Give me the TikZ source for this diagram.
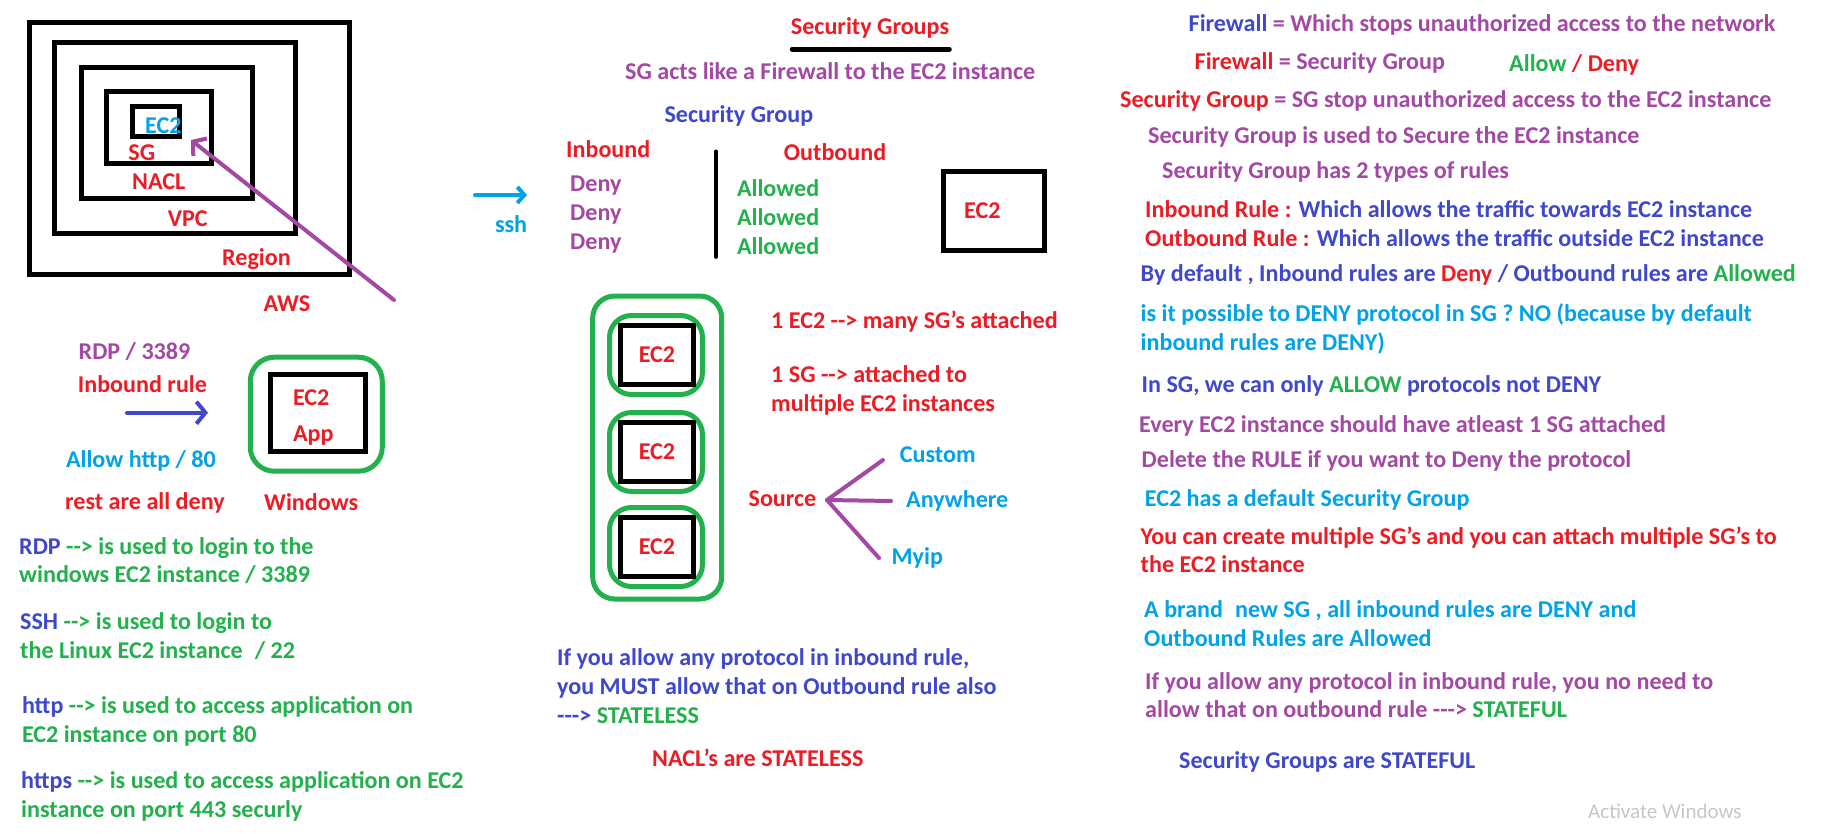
\documentclass[tikz,border=0pt]{standalone}
\usepackage{fontspec}
\setmainfont{Carlito}
\usetikzlibrary{arrows.meta}
\definecolor{sgred}{RGB}{237,28,36}
\definecolor{sgpurple}{RGB}{163,73,164}
\definecolor{sgblue}{RGB}{63,72,204}
\definecolor{sgsky}{RGB}{0,162,232}
\definecolor{sggreen}{RGB}{34,177,76}
\newcommand{\sgto}{-{}->}
\newcommand{\sgtoo}{-{}-{}->}
\newcommand{\sgfont}{\fontsize{24.1}{28.6}\selectfont\bfseries}
\tikzset{
	txt/.style = {anchor=base west, inner sep=0pt, align=left, font=\sgfont},
	blackbox/.style = {draw=black, line width=5pt, inner sep=0pt},
	greenbox/.style = {draw=sggreen, line width=5pt, rounded corners=22pt, inner sep=0pt},
	pen/.style = {line width=4pt, line cap=round},
	barb/.style = {-{Straight Barb[length=9pt, width=22pt]}}
}

\begin{document}
\begin{tikzpicture}[x=1pt, y=-1pt]
	\useasboundingbox[fill=white] (0,0) rectangle (1823,833);
	% nested boxes
	\node[blackbox, minimum width=320pt, minimum height=252pt] (region) at (189.4,148.3) {};
	\node[blackbox, minimum width=241pt, minimum height=191pt] (vpc) at (174.7,138) {};
	\node[blackbox, minimum width=171pt, minimum height=131pt] (nacl) at (166.5,133) {};
	\node[blackbox, minimum width=105pt, minimum height=72pt] (sg) at (159,127) {};
	\node[blackbox, minimum width=47pt, minimum height=30pt] (ec2) at (155.6,121.8) {};
	\node[txt, sgsky] (ec2lbl) at (145,133.5) {EC2};
	\node[txt, sgred] (sglbl) at (128.2,160.2) {SG};
	\node[txt, sgred] (nacllbl) at (132,189.2) {NACL};
	\node[txt, sgred] (vpclbl) at (167.6,226.8) {VPC};
	\node[txt, sgred] (regionlbl) at (222,265.8) {Region};
	\node[txt, sgred] (aws) at (263.3,311.5) {AWS};
	\coordinate (tail) at (394,300);
	\coordinate (tip) at (191,140);
	\draw[pen, barb, sgpurple] (tail) -- (tip);

	% windows instance
	\node[txt, sgpurple] (rdp) at (78.5,359.2) {RDP / 3389};
	\node[txt, sgred] (inrule) at (77.7,392.5) {Inbound rule};
	\coordinate (inA) at (127,412.7);
	\coordinate (inB) at (208,412.7);
	\draw[pen, barb, sgblue] (inA) -- (inB);
	\node[greenbox, minimum width=132pt, minimum height=114pt, rounded corners=24pt] (win) at (316.3,414.2) {};
	\node[blackbox, minimum width=95pt, minimum height=77pt] (app) at (317.7,412.5) {};
	\node[txt, sgred] (appec2) at (292.8,405.8) {EC2};
	\node[txt, sgred] (applbl) at (292.8,441) {App};
	\node[txt, sgsky] (http) at (65.8,467.5) {Allow http / 80};
	\node[txt, sgred] (rest) at (65,509) {rest are all deny};
	\node[txt, sgred] (winlbl) at (264,510.8) {Windows};

	% protocols
	\node[txt, sggreen] (rdpnote) at (19,582.8) {\textcolor{sgblue}{RDP} \sgto{} is used to login to the\\windows EC2 instance / 3389};
	\node[txt, sggreen] (sshnote) at (20,658.4) {\textcolor{sgblue}{SSH} \sgto{} is used to login to\\the Linux EC2 instance\enspace / 22};
	\node[txt, sggreen] (httpnote) at (21.8,742.1) {\textcolor{sgblue}{http} \sgto{} is used to access application on\\EC2 instance on port 80};
	\node[txt, sggreen] (httpsnote) at (21,817.1) {\textcolor{sgblue}{https} \sgto{} is used to access application on EC2\\instance on port 443 securly};

	% security group table
	\node[txt, sgred] (title) at (790.7,34) {Security Groups};
	\coordinate (ulA) at (792,49.3);
	\coordinate (ulB) at (949.5,49.3);
	\draw[pen, line width=4.5pt] (ulA) -- (ulB);
	\node[txt, sgpurple] (acts) at (625,79) {SG acts like a Firewall to the EC2 instance};
	\node[txt, sgblue] (group) at (664.3,122.5) {Security Group};
	\node[txt, sgred] (inbound) at (566,157.5) {Inbound};
	\node[txt, sgred] (outbound) at (783.7,160) {Outbound};
	\coordinate (divA) at (716,151.7);
	\coordinate (divB) at (716,256.7);
	\draw[pen, line width=4.5pt] (divA) -- (divB);
	\foreach \y [count=\n] in {191.8,220.8,249.8}
		\node[txt, sgpurple] (deny\n) at (570,\y) {Deny};
	\foreach \y [count=\n] in {196.5,225.2,254.2}
		\node[txt, sggreen] (allowed\n) at (736.8,\y) {Allowed};
	\coordinate (sshA) at (475,195);
	\coordinate (sshB) at (527,195);
	\draw[pen, sgsky, -{Straight Barb[length=7pt, width=16pt]}] (sshA) -- (sshB);
	\node[txt, sgsky] (ssh) at (494.8,232.5) {ssh};
	\node[blackbox, minimum width=101pt, minimum height=79pt] (inst) at (994,210.5) {};
	\node[txt, sgred] (instlbl) at (964,218) {EC2};

	% many security groups
	\node[greenbox, minimum width=129pt, minimum height=303pt] (outer) at (657.2,447.5) {};
	\foreach \y [count=\n] in {355,452,547} {
		\node[greenbox, minimum width=93pt, minimum height=79pt] (sg\n) at (656,\y) {};
		\node[blackbox, minimum width=73pt, minimum height=59pt, text=sgred, font=\sgfont] (box\n) at (657,\y) {EC2};
	}
	\node[txt, sgred] (many) at (771,328) {1 EC2 \sgto{} many SG's attached};
	\node[txt, sgred] (multi) at (771,411.1) {1 SG \sgto{} attached to\\multiple EC2 instances};
	\node[txt, sgred] (source) at (748.4,506.5) {Source};
	\node[txt, sgsky] (custom) at (899.7,462.5) {Custom};
	\node[txt, sgsky] (anywhere) at (906,507.5) {Anywhere};
	\node[txt, sgsky] (myip) at (891.4,564) {Myip};
	\coordinate (fork) at (827,500);
	\coordinate (toCustom) at (883,460);
	\coordinate (toAnywhere) at (891,501);
	\coordinate (toMyip) at (879,558);
	\foreach \e in {toCustom,toAnywhere,toMyip}
		\draw[pen, sgpurple] (fork) -- (\e);
	\node[txt, sgblue] (stateless) at (557,723) {If you allow any protocol in inbound rule,\\you MUST allow that on Outbound rule also\\\sgtoo{} \textcolor{sggreen}{STATELESS}};
	\node[txt, sgred] (nacls) at (652,766.5) {NACL's are STATELESS};

	% notes
	\node[txt, sgpurple] (fw) at (1188.5,31.5) {\textcolor{sgblue}{Firewall} = Which stops unauthorized access to the network};
	\node[txt, sgpurple] (fwsg) at (1194.5,69.5) {\textcolor{sgred}{Firewall} = Security Group};
	\node[txt, sgred] (allowdeny) at (1509,71.5) {\textcolor{sggreen}{Allow} / Deny};
	\node[txt, sgpurple] (stop) at (1120,107.5) {\textcolor{sgred}{Security Group} = SG stop unauthorized access to the EC2 instance};
	\node[txt, sgpurple] (secure) at (1148,143.5) {Security Group is used to Secure the EC2 instance};
	\node[txt, sgpurple] (types) at (1162,178.5) {Security Group has 2 types of rules};
	\node[txt, sgblue] (inrulenote) at (1145,217.5) {\textcolor{sgred}{Inbound Rule :} Which allows the traffic towards EC2 instance};
	\node[txt, sgblue] (outrulenote) at (1145,246.5) {\textcolor{sgred}{Outbound Rule :} Which allows the traffic outside EC2 instance};
	\node[txt, sgblue] (default) at (1140.5,281.5) {By default , Inbound rules are \textcolor{sgred}{Deny} / Outbound rules are \textcolor{sggreen}{Allowed}};
	\node[txt, sgsky] (possible) at (1140.5,350.4) {is it possible to DENY protocol in SG ? NO (because by default\\inbound rules are DENY)};
	\node[txt, sgblue] (only) at (1141.5,392.5) {In SG, we can only \textcolor{sggreen}{ALLOW} protocols not DENY};
	\node[txt, sgpurple] (every) at (1139,432.5) {Every EC2 instance should have atleast 1 SG attached};
	\node[txt, sgpurple] (delete) at (1141.5,467.5) {Delete the RULE if you want to Deny the protocol};
	\node[txt, sgsky] (dflt) at (1144.7,506.8) {EC2 has a default Security Group};
	\node[txt, sgred] (create) at (1140.5,572.8) {You can create multiple SG's and you can attach multiple SG's to\\the EC2 instance};
	\node[txt, sgsky] (brand) at (1144,646.1) {A brand\enspace new SG , all inbound rules are DENY and\\Outbound Rules are Allowed};
	\node[txt, sgpurple] (noneed) at (1145,717.8) {If you allow any protocol in inbound rule, you no need to\\allow that on outbound rule \sgtoo{} \textcolor{sggreen}{STATEFUL}};
	\node[txt, sgblue] (stateful) at (1179,768.5) {Security Groups are STATEFUL};
	\node[anchor=base west, inner sep=0pt, text=black!22, font=\fontsize{21}{25}\selectfont] (activate) at (1588,818) {Activate Windows};
\end{tikzpicture}
\end{document}
